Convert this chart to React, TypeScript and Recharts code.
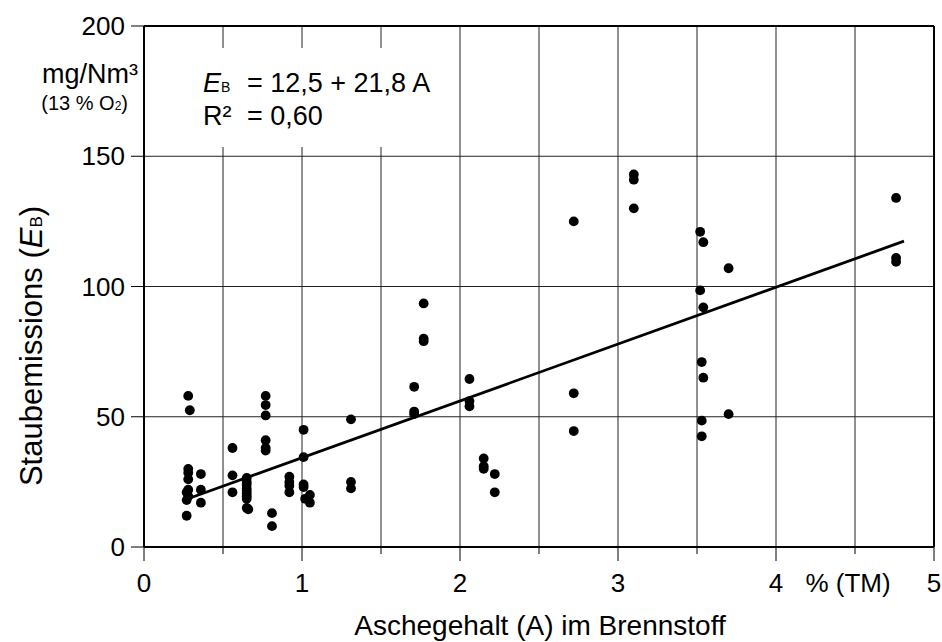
import {
  ScatterChart,
  Scatter,
  XAxis,
  YAxis,
  CartesianGrid,
  ReferenceLine,
  Customized,
} from "recharts"

// Aschegehalt (% TM) und Staubemissionen (mg/Nm³ bei 13 % O2)
const ashContent = [
  0.28, 0.29, 0.28, 0.28, 0.28, 0.28, 0.27, 0.28, 0.27, 0.27,
  0.36, 0.36, 0.36,
  0.56, 0.56, 0.56,
  0.65, 0.65, 0.65, 0.65, 0.65, 0.65, 0.65, 0.65, 0.65, 0.66,
  0.77, 0.77, 0.77, 0.77, 0.77, 0.77,
  0.81, 0.81,
  0.92, 0.92, 0.92, 0.92,
  1.01, 1.01, 1.01, 1.01, 1.02,
  1.05, 1.05,
  1.31, 1.31, 1.31,
  1.71, 1.71, 1.71,
  1.77, 1.77, 1.77,
  2.06, 2.06, 2.06,
  2.15, 2.15, 2.15,
  2.22, 2.22,
  2.72, 2.72, 2.72,
  3.1, 3.1, 3.1,
  3.52, 3.52, 3.53, 3.53, 3.53,
  3.54, 3.54, 3.54,
  3.7, 3.7,
  4.76, 4.76, 4.76,
]

const dustEmission = [
  58, 52.5, 30, 28.5, 26, 22, 21, 19.5, 18, 12,
  28, 22, 17,
  38, 27.5, 21,
  26.5, 25, 24, 22.5, 21.5, 20.5, 19.5, 18.5, 15, 14.5,
  58, 54.5, 50.5, 41, 38, 37,
  13, 8,
  27, 25, 23.5, 21,
  45, 34.5, 24, 23, 18.5,
  20, 17,
  49, 25, 22.5,
  61.5, 52, 51,
  93.5, 80, 79,
  64.5, 56, 54,
  34, 31, 30,
  28, 21,
  125, 59, 44.5,
  143, 141, 130,
  121, 98.5, 71, 48.5, 42.5,
  117, 92, 65,
  107, 51,
  134, 111, 109.5,
]

const trendX = [0.3, 4.81]
const trendY = [19.0, 117.4]

const xTicks = [0, 0.5, 1, 1.5, 2, 2.5, 3, 3.5, 4, 4.5, 5]
const yTicks = [0, 50, 100, 150, 200]

const points = ashContent.map((x, i) => ({ x, y: dustEmission[i] }))
const trend = trendX.map((x, i) => ({ x, y: trendY[i] }))

const FONT = '"Liberation Sans", Arial, Helvetica, sans-serif'

function XTick(props: any) {
  const { x, y, payload } = props
  const v = payload.value as number
  const whole = Number.isInteger(v)
  return (
    <g>
      <line x1={x} y1={y} x2={x} y2={y + (whole ? 14 : 7)} stroke="#000" strokeWidth={1} />
      {whole && (
        <text x={x} y={y + 45} textAnchor="middle" fontSize={26} fill="#000" fontFamily={FONT}>
          {v}
        </text>
      )}
    </g>
  )
}

function Labels() {
  return (
    <g fontFamily={FONT} fill="#000">
      {/* white box behind the regression equation */}
      <rect x={146} y={48} width={293} height={99} fill="#fff" />
      <text x={203} y={92} fontSize={27}>
        <tspan fontStyle="italic">E</tspan>
        <tspan fontSize={14}>B</tspan>
      </text>
      <text x={247} y={92} fontSize={27}>
        = 12,5 + 21,8 A
      </text>
      <text x={203} y={125} fontSize={27}>
        R²
      </text>
      <text x={247} y={125} fontSize={27}>
        = 0,60
      </text>
      <text x={138} y={83} textAnchor="end" fontSize={27}>
        mg/Nm³
      </text>
      <text x={128} y={110} textAnchor="end" fontSize={20}>
        (13 % O<tspan fontSize={12}>2</tspan>)
      </text>
      <text transform="translate(42,346) rotate(-90)" textAnchor="middle" fontSize={31}>
        Staubemissions (<tspan fontStyle="italic">E</tspan>
        <tspan fontSize={17}>B</tspan>)
      </text>
      <text x={540} y={635} textAnchor="middle" fontSize={28}>
        Aschegehalt (A) im Brennstoff
      </text>
      <text x={848} y={592} textAnchor="middle" fontSize={26}>
        % (TM)
      </text>
    </g>
  )
}

export default function App() {
  return (
    <div
      style={{
        position: "absolute",
        left: 0,
        top: 0,
        width: 942,
        height: 642,
        background: "#fff",
        fontFamily: FONT,
      }}
    >
      <ScatterChart width={942} height={642} margin={{ top: 26, right: 8, bottom: 0, left: 0 }}>
        <CartesianGrid stroke="#222" strokeWidth={1} />
        <ReferenceLine x={5} stroke="#000" strokeWidth={2} />
        <ReferenceLine y={200} stroke="#000" strokeWidth={2} />
        <XAxis
          type="number"
          dataKey="x"
          domain={[0, 5]}
          ticks={xTicks}
          interval={0}
          height={95}
          axisLine={{ stroke: "#000", strokeWidth: 2 }}
          tickLine={false}
          tickSize={0}
          tickMargin={0}
          tick={<XTick />}
          allowDataOverflow
        />
        <YAxis
          type="number"
          dataKey="y"
          domain={[0, 200]}
          ticks={yTicks}
          interval={0}
          width={144}
          axisLine={{ stroke: "#000", strokeWidth: 2 }}
          tickLine={{ stroke: "#000", strokeWidth: 1 }}
          tickSize={13}
          tickMargin={6}
          tick={{ fontSize: 26, fill: "#000", fontFamily: FONT }}
          allowDataOverflow
        />
        <Customized component={Labels} />
        <Scatter
          data={points}
          fill="#000"
          isAnimationActive={false}
          shape={(p: any) => <circle cx={p.cx} cy={p.cy} r={4.9} fill="#000" />}
        />
        <Scatter
          data={trend}
          line={{ stroke: "#000", strokeWidth: 2.8 }}
          shape={() => <g />}
          isAnimationActive={false}
        />
      </ScatterChart>
    </div>
  )
}
